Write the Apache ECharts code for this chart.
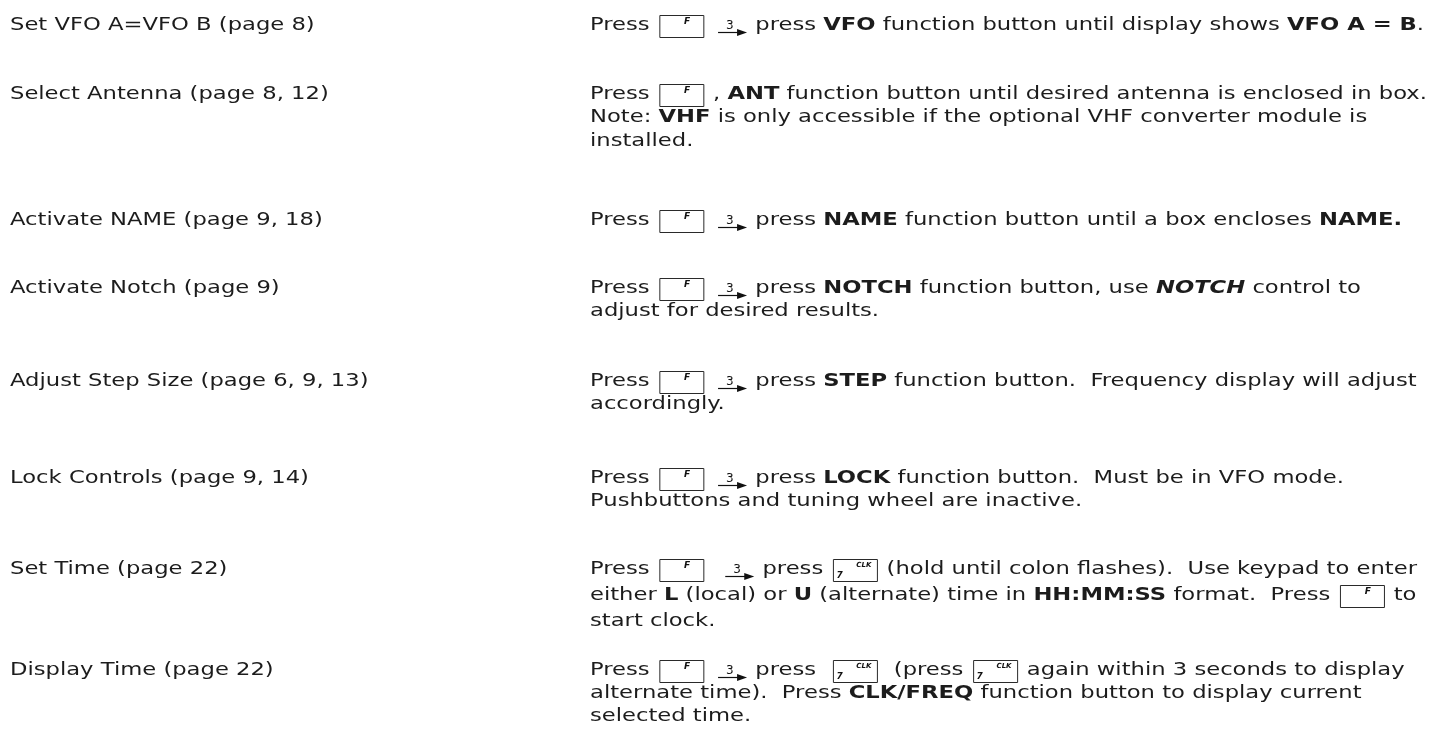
<!DOCTYPE html>
<html><head><meta charset="utf-8">
<script src="https://cdn.jsdelivr.net/npm/echarts/dist/echarts.min.js"></script>
<style>html,body{margin:0;padding:0;background:#fff}#c{width:1436px;height:755px}</style>
</head><body><div id="c"></div>
<script>
// ---- content (data) ----
const topics = [
  "Set VFO A=VFO B (page 8)",
  "Select Antenna (page 8, 12)",
  "Activate NAME (page 9, 18)",
  "Activate Notch (page 9)",
  "Adjust Step Size (page 6, 9, 13)",
  "Lock Controls (page 9, 14)",
  "Set Time (page 22)",
  "Display Time (page 22)"
];
const steps1 = ["Press [F] [3] press **VFO** function button until display shows **VFO A = B**."];
const steps2 = ["Press [F] , **ANT** function button until desired antenna is enclosed in box.",
                "Note: **VHF** is only accessible if the optional VHF converter module is",
                "installed."];
const steps3 = ["Press [F] [3] press **NAME** function button until a box encloses **NAME.**"];
const steps4 = ["Press [F] [3] press **NOTCH** function button, use ***NOTCH*** control to",
                "adjust for desired results."];
const steps5 = ["Press [F] [3] press **STEP** function button.  Frequency display will adjust",
                "accordingly."];
const steps6 = ["Press [F] [3] press **LOCK** function button.  Must be in VFO mode.",
                "Pushbuttons and tuning wheel are inactive."];
const steps7 = ["Press [F]  [3] press [7] (hold until colon flashes).  Use keypad to enter",
                "either **L** (local) or **U** (alternate) time in **HH:MM:SS** format.  Press [F] to",
                "start clock."];
const steps8 = ["Press [F] [3] press  [7]  (press [7] again within 3 seconds to display",
                "alternate time).  Press **CLK/FREQ** function button to display current",
                "selected time."];
const steps = [steps1, steps2, steps3, steps4, steps5, steps6, steps7, steps8];

// ---- layout / style ----
const L = {
  leftX: 10, rightX: 590, rightEdge: 1424,
  rowTop: [25, 94, 220, 288, 381, 478, 569, 670],
  lineH: [23.5, 23.5, 23.5, 23.5, 23.5, 23.5, 26, 23],
  font: 'DejaVu Sans', size: 18, color: '#1c1c1c',
  keyW: 44, keyH: 22, keyPadL: 3, keyPadR: 2, arrowW: 30, arrowPadL: 5
};

const cv = document.createElement('canvas').getContext('2d');
function fstr(b, i, sz) { return (i ? 'italic ' : '') + (b ? 'bold ' : '') + (sz || L.size) + 'px "' + L.font + '"'; }
function measure(t, b, i) { cv.font = fstr(b, i); return cv.measureText(t).width; }
const TA = {align: 'left', textAlign: 'left'};

function keyBox(x, cy) {
  return {type: 'rect', shape: {x: x, y: cy - 9.5, width: L.keyW, height: L.keyH},
          style: {fill: '#fff', stroke: '#2a2a2a', lineWidth: 1}};
}
function keyF(x, cy) {
  return [keyBox(x, cy),
    {type: 'text', x: x + L.keyW * 0.55, y: cy - 7.5,
     style: Object.assign({text: 'F', font: fstr(true, true, 9), fill: '#111', verticalAlign: 'top', textVerticalAlign: 'top'}, TA)}];
}
function key7(x, cy) {
  return [keyBox(x, cy),
    {type: 'text', x: x + 3, y: cy + 11,
     style: Object.assign({text: '7', font: fstr(true, true, 9), fill: '#111', verticalAlign: 'bottom', textVerticalAlign: 'bottom'}, TA)},
    {type: 'text', x: x + L.keyW * 0.52, y: cy - 7.5,
     style: Object.assign({text: 'CLK', font: fstr(true, true, 7), fill: '#111', verticalAlign: 'top', textVerticalAlign: 'top'}, TA)}];
}
function arrow3(x, cy) {
  const by = cy + 7.5;
  return [
    {type: 'line', shape: {x1: x, y1: by, x2: x + 22, y2: by}, style: {stroke: '#111', lineWidth: 1.2}},
    {type: 'polygon', shape: {points: [[x + 19, by - 3.5], [x + 29, by], [x + 19, by + 3.5]]}, style: {fill: '#111'}},
    {type: 'text', x: x + 8, y: by - 1,
     style: Object.assign({text: '3', font: fstr(false, false, 12), fill: '#111', verticalAlign: 'bottom', textVerticalAlign: 'bottom'}, TA)}];
}
function parse(str) {
  return str.split(/(\[F\]|\[3\]|\[7\]|\*\*\*.+?\*\*\*|\*\*.+?\*\*)/).filter(p => p).map(p => {
    if (p === '[F]' || p === '[7]' || p === '[3]') return {sym: p};
    if (p.startsWith('***')) return {t: p.slice(3, -3), b: true, i: true};
    if (p.startsWith('**')) return {t: p.slice(2, -2), b: true, i: false};
    return {t: p, b: false, i: false};
  });
}
function symW(s) { return s === '[3]' ? L.arrowPadL + L.arrowW : L.keyPadL + L.keyW + L.keyPadR; }
function widths(str) {
  let tw = 0, kw = 0;
  parse(str).forEach(p => { if (p.sym) kw += symW(p.sym); else tw += measure(p.t, p.b, p.i); });
  return {tw, kw};
}
// horizontal stretch of the text so the first instruction line spans the column as on the page
const w0 = widths(steps[0][0]);
const sx = (L.rightEdge - L.rightX - w0.kw) / w0.tw;

function lineItems(str, x0, cy) {
  let x = x0; const out = [];
  parse(str).forEach(p => {
    if (p.sym === '[F]') { out.push(...keyF(x + L.keyPadL, cy)); x += symW(p.sym); return; }
    if (p.sym === '[7]') { out.push(...key7(x + L.keyPadL, cy)); x += symW(p.sym); return; }
    if (p.sym === '[3]') { out.push(...arrow3(x + L.arrowPadL, cy)); x += symW(p.sym); return; }
    out.push({type: 'text', x: x, y: cy, scaleX: sx,
      style: Object.assign({text: p.t, font: fstr(p.b, p.i), fill: L.color, verticalAlign: 'middle', textVerticalAlign: 'middle'}, TA)});
    x += measure(p.t, p.b, p.i) * sx;
  });
  return out;
}

const elements = [];
topics.forEach((t, r) => {
  const y0 = L.rowTop[r];
  elements.push(...lineItems(t, L.leftX, y0));
  steps[r].forEach((s, k) => elements.push(...lineItems(s, L.rightX, y0 + k * L.lineH[r])));
});

const chart = echarts.init(document.getElementById('c'), null, {renderer: 'canvas'});
chart.setOption({animation: false, backgroundColor: '#fff', graphic: {elements: elements}});
</script>
</body></html>
